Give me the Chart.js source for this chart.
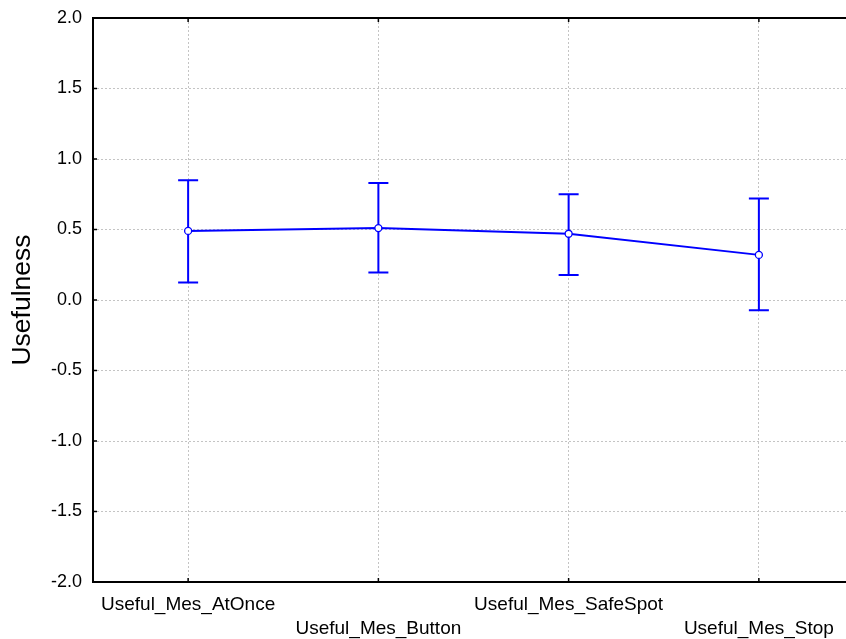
<!DOCTYPE html>
<html>
<head>
<meta charset="utf-8">
<script src="https://cdn.jsdelivr.net/npm/chart.js@4/dist/chart.umd.min.js"></script>
<style>
  html, body { margin: 0; padding: 0; background: #fff; overflow: hidden; }
  #wrap { width: 870px; height: 639px; }
</style>
</head>
<body>
<div id="wrap"><canvas id="c" width="870" height="639"></canvas></div>
<script>
const categories = ["Useful_Mes_AtOnce", "Useful_Mes_Button", "Useful_Mes_SafeSpot", "Useful_Mes_Stop"];
const means = [0.49, 0.51, 0.47, 0.32];
const upper = [0.85, 0.83, 0.75, 0.72];
const lower = [0.125, 0.195, 0.177, -0.073];
const yTicks = [-2.0, -1.5, -1.0, -0.5, 0.0, 0.5, 1.0, 1.5, 2.0];
const yTitle = "Usefulness";

const FONT = "'Liberation Sans', Arial, sans-serif";
const BLUE = "#0000ff";

// staggered labels: even on first line, odd on second line
const staggered = categories.map((c, i) => i % 2 === 0 ? [c, ""] : ["", c]);

const errorBars = {
  id: "errorBars",
  beforeDatasetsDraw(chart) {
    const ctx = chart.ctx;
    const xs = chart.scales.x, ys = chart.scales.y;
    ctx.save();
    ctx.strokeStyle = BLUE;
    ctx.lineWidth = 2;
    for (let i = 0; i < categories.length; i++) {
      const x = xs.getPixelForValue(i);
      const yU = ys.getPixelForValue(upper[i]);
      const yL = ys.getPixelForValue(lower[i]);
      ctx.beginPath();
      ctx.moveTo(x, yU); ctx.lineTo(x, yL);
      ctx.moveTo(x - 10, yU); ctx.lineTo(x + 10, yU);
      ctx.moveTo(x - 10, yL); ctx.lineTo(x + 10, yL);
      ctx.stroke();
    }
    ctx.restore();
  }
};

const frame = {
  id: "frame",
  afterDraw(chart) {
    const ctx = chart.ctx;
    const a = chart.chartArea;
    const xs = chart.scales.x, ys = chart.scales.y;
    ctx.save();
    ctx.strokeStyle = "#000";
    ctx.lineWidth = 2;
    ctx.beginPath();
    ctx.moveTo(a.right + 20, a.top); ctx.lineTo(a.left, a.top);
    ctx.lineTo(a.left, a.bottom); ctx.lineTo(a.right + 20, a.bottom);
    ctx.stroke();
    ctx.lineWidth = 1.5;
    ctx.beginPath();
    yTicks.forEach(v => {
      const y = ys.getPixelForValue(v);
      ctx.moveTo(a.left, y); ctx.lineTo(a.left + 4, y);
    });
    for (let i = 0; i < categories.length; i++) {
      const x = xs.getPixelForValue(i);
      ctx.moveTo(x, a.bottom); ctx.lineTo(x, a.bottom - 4);
      ctx.moveTo(x, a.top); ctx.lineTo(x, a.top + 4);
    }
    ctx.stroke();
    ctx.restore();
  }
};

new Chart(document.getElementById("c"), {
  type: "line",
  data: {
    labels: staggered,
    datasets: [{
      data: means,
      borderColor: BLUE,
      borderWidth: 2,
      pointRadius: 3.5,
      pointBackgroundColor: "#ffffff",
      pointBorderColor: BLUE,
      pointBorderWidth: 1.3,
      tension: 0
    }]
  },
  options: {
    responsive: false,
    animation: false,
    events: [],
    layout: { padding: { left: 0, right: 16, top: 18, bottom: 0 } },
    plugins: { legend: { display: false }, tooltip: { enabled: false } },
    scales: {
      x: {
        type: "category",
        offset: true,
        grid: { offset: false, color: "#c4c4c4", lineWidth: 1, drawTicks: false },
        border: { display: false, dash: [2, 2] },
        ticks: {
          color: "#000",
          font: { family: FONT, size: 19, lineHeight: 1.26 },
          padding: 11,
          maxRotation: 0,
          autoSkip: false
        },
        afterFit(scale) { scale.height = 57; scale.paddingLeft = 0; scale.paddingRight = 0; }
      },
      y: {
        min: -2, max: 2,
        grid: { color: "#c4c4c4", lineWidth: 1, drawTicks: false },
        border: { display: false, dash: [2, 2] },
        afterBuildTicks(scale) { scale.ticks = yTicks.map(v => ({ value: v })); },
        ticks: {
          color: "#000",
          font: { family: FONT, size: 18 },
          padding: 11,
          callback: v => Number(v).toFixed(1)
        },
        title: {
          display: true,
          text: yTitle,
          color: "#000",
          font: { family: FONT, size: 26.5 },
          padding: { top: 7, bottom: 0 }
        },
        afterFit(scale) { scale.width = 93; scale.paddingTop = 0; scale.paddingBottom = 0; }
      }
    }
  },
  plugins: [errorBars, frame]
});
</script>
</body>
</html>
